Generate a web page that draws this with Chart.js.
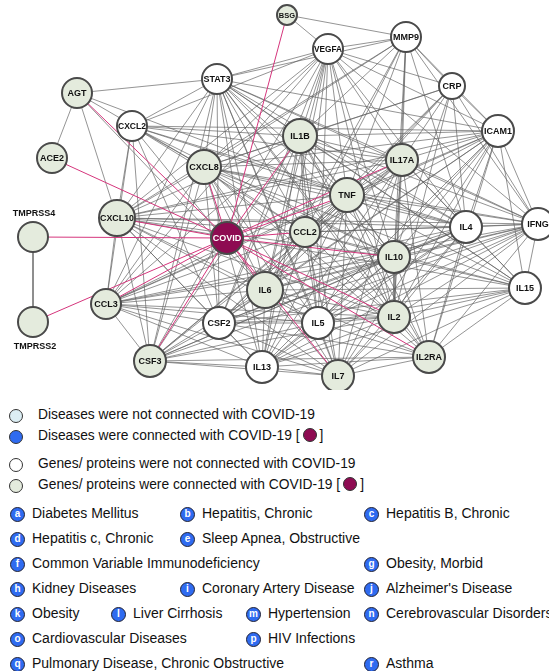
<!DOCTYPE html>
<html><head><meta charset="utf-8">
<script src="https://cdn.jsdelivr.net/npm/chart.js@4/dist/chart.umd.min.js"></script>
<style>
html,body{margin:0;padding:0;background:#fff;overflow:hidden}
body{width:549px;height:671px;position:relative;font-family:"Liberation Sans",Arial,sans-serif;color:#111}
#wrap{position:absolute;left:0;top:0;width:549px;height:390px}
.lg{position:absolute;font-size:13.8px;white-space:nowrap;line-height:16px}
.dot{position:absolute;width:12px;height:12px;border-radius:50%;border:1.5px solid #333;box-sizing:content-box}
.pin{display:inline-block;width:12px;height:12px;border-radius:50%;background:#8E0B52;border:1.5px solid #333;vertical-align:-2px;margin:0 3px}
.bd{position:absolute;width:13px;height:13px;border-radius:50%;background:#2F6BF0;border:1px solid #223;color:#fff;font-weight:bold;font-size:10px;line-height:12.5px;text-align:center}
.dt{position:absolute;font-size:14px;white-space:nowrap;line-height:16px}
</style></head>
<body>
<div id="wrap"><canvas id="c" width="549" height="390"></canvas></div>
<div id="legend"></div>
<script>
// ---- DATA ----
const nodeNames = ["BSG","VEGFA","MMP9","STAT3","CRP","AGT","CXCL2","ICAM1","ACE2","IL1B","IL17A","CXCL8","TNF","TMPRSS4","CXCL10","COVID","CCL2","IL4","IFNG","IL10","IL15","TMPRSS2","CCL3","IL6","CSF2","IL5","IL2","IL2RA","CSF3","IL13","IL7"];
const nodeX = [287,328,406,217,452,77,132,498,52,300,402,204,347,33,117,227,305,466,538,394,525,33,106,265,219,318,394,429,150,262,338];
const nodeY = [15,49,37,79,86,93,126,131,158,136,160,167,195,237,218,238,232,227,224,257,288,322,304,290,323,323,317,357,361,367,376];
const nodeSize = [10,15,15,15,13,15,15,16,15,17,16,17,17,15,18,16,15,16,16,16,16,15,15,18,16,16,16,16,16,16,16];
const nodeGroup = ["g","w","w","w","w","g","w","w","g","g","g","g","g","g","g","c","g","w","w","g","w","g","g","g","w","w","g","g","g","w","g"];
const covidLinks = ["AGT","ACE2","BSG","TMPRSS4","TMPRSS2","CXCL10","CCL3","CSF3","IL6","IL7","IL2RA","IL2","IL10","CCL2","TNF","IL17A","IL1B","CXCL8"];
const adjacency = {
  AGT:["STAT3","ACE2","CXCL10","CXCL8","IL6","TNF"],
  BSG:["VEGFA","MMP9"],
  TMPRSS4:["TMPRSS2"],
  CXCL2:["STAT3","CXCL8","IL1B","TNF","IL17A","CCL2","IL6","IL10","CXCL10","CCL3","CSF3","CSF2","ICAM1","VEGFA","IL4"],
  STAT3:["VEGFA","MMP9","IL1B","IL17A","CXCL8","TNF","CXCL10","CCL2","IL4","IFNG","IL10","IL6","IL2","IL5","CSF2","CSF3","IL13","IL7","IL15","ICAM1","CCL3","IL2RA"],
  VEGFA:["MMP9","CRP","ICAM1","IL1B","IL17A","CXCL8","TNF","CXCL10","CCL2","IL4","IFNG","IL10","IL6","IL2","CSF2","CSF3","IL13","IL5","CCL3"],
  MMP9:["CRP","ICAM1","IL1B","IL17A","CXCL8","TNF","CCL2","IL10","IL6","IL4","IFNG","CXCL10","IL2"],
  CRP:["ICAM1","IL1B","IL17A","TNF","IL6","IL10","CCL2","CXCL8","IFNG","IL4","IL2"],
  ICAM1:["IL1B","IL17A","CXCL8","TNF","CCL2","IL4","IFNG","IL10","IL15","IL6","IL2","IL5","IL13","CXCL10","CCL3","CSF2","IL2RA","IL7"],
  IL1B:["IL17A","CXCL8","TNF","CXCL10","CCL2","IL4","IFNG","IL10","IL15","CCL3","IL6","CSF2","IL5","IL2","IL2RA","CSF3","IL13","IL7"],
  IL17A:["CXCL8","TNF","CXCL10","CCL2","IL4","IFNG","IL10","IL15","CCL3","IL6","CSF2","IL5","IL2","IL2RA","CSF3","IL13","IL7"],
  CXCL8:["TNF","CXCL10","CCL2","IL4","IFNG","IL10","IL15","CCL3","IL6","CSF2","IL5","IL2","IL2RA","CSF3","IL13","IL7"],
  TNF:["CXCL10","CCL2","IL4","IFNG","IL10","IL15","CCL3","IL6","CSF2","IL5","IL2","IL2RA","CSF3","IL13","IL7"],
  CXCL10:["CCL2","IL4","IFNG","IL10","IL15","CCL3","IL6","CSF2","IL5","IL2","CSF3","IL13","IL7"],
  CCL2:["IL4","IFNG","IL10","CCL3","IL6","CSF2","IL5","IL2","CSF3","IL13","IL7","IL15"],
  IL4:["IFNG","IL10","IL15","CCL3","IL6","CSF2","IL5","IL2","IL2RA","CSF3","IL13","IL7"],
  IFNG:["IL10","IL15","CCL3","IL6","CSF2","IL5","IL2","IL2RA","CSF3","IL13","IL7"],
  IL10:["IL15","CCL3","IL6","CSF2","IL5","IL2","IL2RA","CSF3","IL13","IL7"],
  IL15:["IL6","IL2","IL2RA","IL5","IL7","IL13","CSF2"],
  CCL3:["IL6","CSF2","IL5","IL2","CSF3","IL13","IL7","IL10"],
  IL6:["CSF2","IL5","IL2","IL2RA","CSF3","IL13","IL7"],
  CSF2:["IL5","IL2","CSF3","IL13","IL7","IL2RA"],
  IL5:["IL2","IL13","IL7","IL2RA","CSF3"],
  IL2:["IL2RA","IL13","IL7","CSF3"],
  IL2RA:["IL7","IL13","CSF3"],
  CSF3:["IL13","IL7"],
  IL13:["IL7"]
};
const legendRows = [
  {text:"Diseases were not connected with COVID-19", fill:"#DCEEF4", pin:false},
  {text:"Diseases were connected with COVID-19 [", fill:"#2F6BF0", pin:true},
  {text:"Genes/ proteins were not connected with COVID-19", fill:"#FFFFFF", pin:false},
  {text:"Genes/ proteins were connected with COVID-19 [", fill:"#E4EBDD", pin:true}
];
const diseaseLetters = ["a","b","c","d","e","f","g","h","i","j","k","l","m","n","o","p","q","r"];
const diseaseNames = ["Diabetes Mellitus","Hepatitis, Chronic","Hepatitis B, Chronic","Hepatitis c, Chronic","Sleep Apnea, Obstructive","Common Variable Immunodeficiency","Obesity, Morbid","Kidney Diseases","Coronary Artery Disease","Alzheimer's Disease","Obesity","Liver Cirrhosis","Hypertension","Cerebrovascular Disorders","Cardiovascular Diseases","HIV Infections","Pulmonary Disease, Chronic Obstructive","Asthma"];
const diseaseRow = [0,0,0,1,1,2,2,3,3,3,4,4,4,4,5,5,6,6];
const diseaseCol = [17,187,371,17,187,17,371,17,187,371,17,118,253,371,17,253,17,371];

// ---- BUILD ----
const idx = {}; nodeNames.forEach((n,i)=>idx[n]=i);
const grayPts = [], pinkPts = [];
const seen = new Set();
for (const a in adjacency) for (const b of adjacency[a]) {
  const k = [a,b].sort().join("|"); if (seen.has(k)) continue; seen.add(k);
  grayPts.push({x:nodeX[idx[a]],y:nodeY[idx[a]]},{x:nodeX[idx[b]],y:nodeY[idx[b]]},{x:null,y:null});
}
const ci = idx["COVID"];
for (const b of covidLinks) {
  pinkPts.push({x:nodeX[ci],y:nodeY[ci]},{x:nodeX[idx[b]],y:nodeY[idx[b]]},{x:null,y:null});
}
const fillOf = g => g==="g" ? "#E4EBDD" : g==="c" ? "#8E0B52" : "#FFFFFF";
const nodePts = nodeNames.map((n,i)=>({x:nodeX[i],y:nodeY[i]}));

const labelPlugin = {
  id:"labels",
  afterDatasetsDraw(chart){
    const ctx = chart.ctx, xs = chart.scales.x, ys = chart.scales.y;
    ctx.save();
    ctx.textAlign="center"; ctx.textBaseline="middle";
    nodeNames.forEach((n,i)=>{
      const px = xs.getPixelForValue(nodeX[i]), py = ys.getPixelForValue(nodeY[i]);
      let fs = 9;
      if (n==="BSG") fs = 7.5;
      ctx.font = "bold "+fs+"px 'Liberation Sans', Arial, sans-serif";
      ctx.fillStyle = n==="COVID" ? "#FFFFFF" : "#111";
      if (n==="TMPRSS4") ctx.fillText(n, px+1, py-23);
      else if (n==="TMPRSS2") ctx.fillText(n, px+2, py+25);
      else {
        let w = ctx.measureText(n).width, maxW = nodeSize[i]*2-2;
        if (w>maxW){ ctx.font = "bold "+(fs*maxW/w).toFixed(2)+"px 'Liberation Sans', Arial, sans-serif"; }
        ctx.fillText(n, px, py+0.5);
      }
    });
    ctx.restore();
  }
};

new Chart(document.getElementById("c"), {
  type:"scatter",
  data:{datasets:[
    {label:"nodes", data:nodePts, order:0, pointRadius:nodeSize, pointHoverRadius:nodeSize,
     pointBackgroundColor:nodeGroup.map(fillOf), pointBorderColor:"#4a4a4a", pointBorderWidth:2, showLine:false, clip:false},
    {label:"covid", data:pinkPts, order:1, showLine:true, spanGaps:false, borderColor:"#D5357C", borderWidth:1, pointRadius:0, clip:false},
    {label:"edges", data:grayPts, order:2, showLine:true, spanGaps:false, borderColor:"rgba(95,95,95,0.75)", borderWidth:0.9, pointRadius:0, clip:false}
  ]},
  options:{
    responsive:false, animation:false, events:[],
    layout:{padding:0, autoPadding:false},
    plugins:{legend:{display:false}, tooltip:{enabled:false}},
    scales:{
      x:{type:"linear", min:0, max:549, display:false},
      y:{type:"linear", min:0, max:390, reverse:true, display:false}
    }
  },
  plugins:[labelPlugin]
});

// ---- LEGEND (HTML text) ----
const L = document.getElementById("legend");
const rowY = [416,437,465,486];
legendRows.forEach((r,i)=>{
  const d = document.createElement("div"); d.className="dot";
  d.style.left="9px"; d.style.top=(rowY[i]-7.5)+"px"; d.style.background=r.fill; L.appendChild(d);
  const t = document.createElement("div"); t.className="lg";
  t.style.left="38px"; t.style.top=(rowY[i]-9)+"px";
  t.innerHTML = r.text + (r.pin ? '<span class="pin"></span>]' : "");
  L.appendChild(t);
});
const dRowY = [514,539,564,589,614,639,664];
diseaseNames.forEach((name,i)=>{
  const y = dRowY[diseaseRow[i]], x = diseaseCol[i];
  const b = document.createElement("div"); b.className="bd";
  b.style.left=(x-7)+"px"; b.style.top=(y-7)+"px"; b.textContent=diseaseLetters[i]; L.appendChild(b);
  const t = document.createElement("div"); t.className="dt";
  t.style.left=(x+15)+"px"; t.style.top=(y-9)+"px"; t.textContent=name; L.appendChild(t);
});
</script>
</body></html>
